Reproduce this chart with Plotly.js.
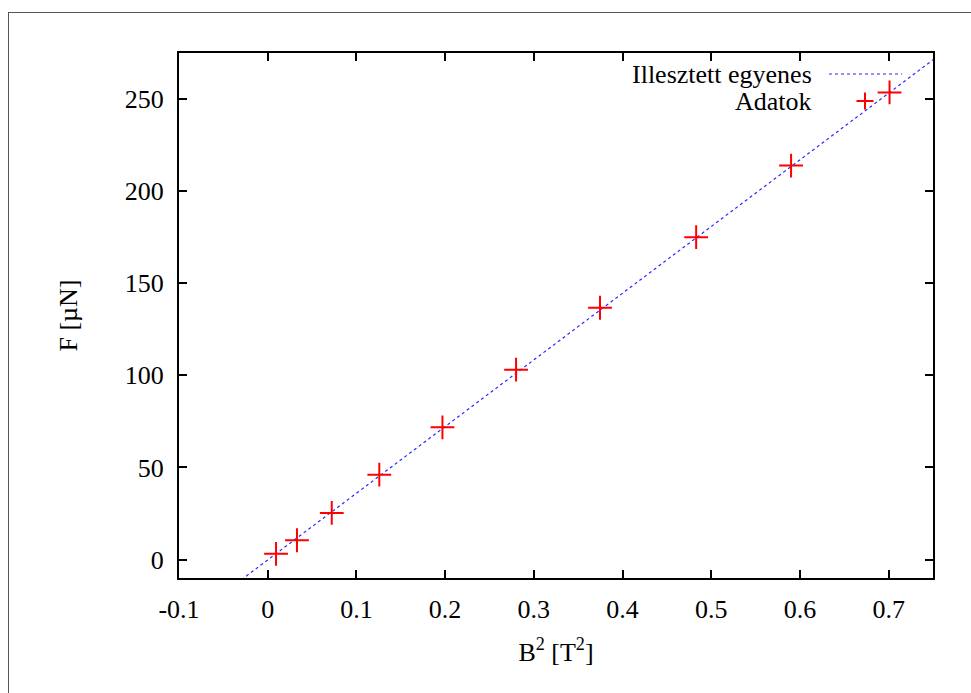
<!DOCTYPE html>
<html>
<head>
<meta charset="utf-8">
<script src="https://cdn.plot.ly/plotly-3.0.1.min.js"></script>
<style>html,body{margin:0;padding:0;background:#fff;}#chart{width:971px;height:693px;}</style>
</head>
<body>
<div id="chart"></div>
<script>
// Measured data: B^2 [T^2] and F [uN]
const b2 = [0.0094, 0.033, 0.0722, 0.1258, 0.197, 0.280, 0.3746, 0.483, 0.590, 0.701];
const force = [3.1, 10.5, 25.3, 46.1, 71.8, 103.1, 136.7, 175.0, 213.9, 253.6];
// Fitted line parameters (F = slope * B^2 + intercept)
const fitSlope = 362.0;
const fitIntercept = -0.2;
const fitRange = [-0.1, 0.75];
const xTickVals = [-0.1, 0, 0.1, 0.2, 0.3, 0.4, 0.5, 0.6, 0.7];
const yTickVals = [0, 50, 100, 150, 200, 250];
const legendNames = ["Illesztett egyenes", "Adatok"];

const fitY = fitRange.map(x => fitSlope * x + fitIntercept);
const font = "Liberation Serif, Times New Roman, serif";
const fs = 26;

const traces = [
  {x: fitRange, y: fitY, mode: "lines", name: legendNames[0],
   line: {color: "rgb(40,40,255)", width: 1.2, dash: "dot"}, showlegend: false, hoverinfo: "skip"},
  {x: b2, y: force, mode: "markers", name: legendNames[1],
   marker: {symbol: "cross-thin-open", size: 17, color: "rgb(255,0,0)", line: {color: "rgb(255,0,0)", width: 2}},
   showlegend: false}
];

// plot area pixel geometry for legend placement (paper coords)
const L = 179, R = 933, T = 53, B = 578;
const px = v => (v - L) / (R - L);
const py = v => (B - v) / (B - T);

const axisCommon = {
  showgrid: false, zeroline: false, showline: true, linecolor: "#000", linewidth: 2,
  mirror: "allticks", ticks: "inside", ticklen: 8, tickwidth: 2, tickcolor: "#000",
  tickfont: {family: font, size: fs, color: "#000"}
};

const layout = {
  width: 971, height: 693,
  margin: {l: L, r: 971 - R, t: T, b: 693 - B},
  paper_bgcolor: "#fff", plot_bgcolor: "#fff",
  showlegend: false,
  font: {family: font, size: fs, color: "#000"},
  xaxis: Object.assign({}, axisCommon, {
    range: fitRange, tickvals: xTickVals, ticktext: xTickVals.map(String),
    ticklabelstandoff: 7,
    title: {text: "B<sup>2</sup> [T<sup>2</sup>]", font: {family: font, size: fs, color: "#000"}, standoff: 20}
  }),
  yaxis: Object.assign({}, axisCommon, {
    range: [-10, 275], tickvals: yTickVals, ticktext: yTickVals.map(String),
    ticklabelstandoff: 8,
    title: {text: "F [µN]", font: {family: font, size: fs, color: "#000"}, standoff: 40}
  }),
  annotations: [
    {xref: "paper", yref: "paper", x: px(814), y: py(74), xanchor: "right", yanchor: "middle",
     text: legendNames[0], showarrow: false, font: {family: font, size: fs, color: "#000"}},
    {xref: "paper", yref: "paper", x: px(814), y: py(101), xanchor: "right", yanchor: "middle",
     text: legendNames[1], showarrow: false, font: {family: font, size: fs, color: "#000"}}
  ],
  shapes: [
    // outer frame (only top/left edges visible in the picture)
    {type: "line", xref: "paper", yref: "paper", x0: px(8), x1: px(971), y0: py(12.5), y1: py(12.5),
     line: {color: "#555", width: 1}, layer: "below"},
    {type: "line", xref: "paper", yref: "paper", x0: px(8.5), x1: px(8.5), y0: py(12), y1: py(693),
     line: {color: "#555", width: 1}, layer: "below"},
    // legend key: dotted line
    {type: "line", xref: "paper", yref: "paper", x0: px(829), x1: px(902), y0: py(74), y1: py(74),
     line: {color: "rgb(40,40,255)", width: 1.2, dash: "dot"}},
    // legend key: red cross
    {type: "line", xref: "paper", yref: "paper", x0: px(856.5), x1: px(873.5), y0: py(101), y1: py(101),
     line: {color: "rgb(255,0,0)", width: 2}},
    {type: "line", xref: "paper", yref: "paper", x0: px(865), x1: px(865), y0: py(92.5), y1: py(109.5),
     line: {color: "rgb(255,0,0)", width: 2}}
  ]
};

Plotly.newPlot("chart", traces, layout, {displayModeBar: false, staticPlot: true});
</script>
</body>
</html>
